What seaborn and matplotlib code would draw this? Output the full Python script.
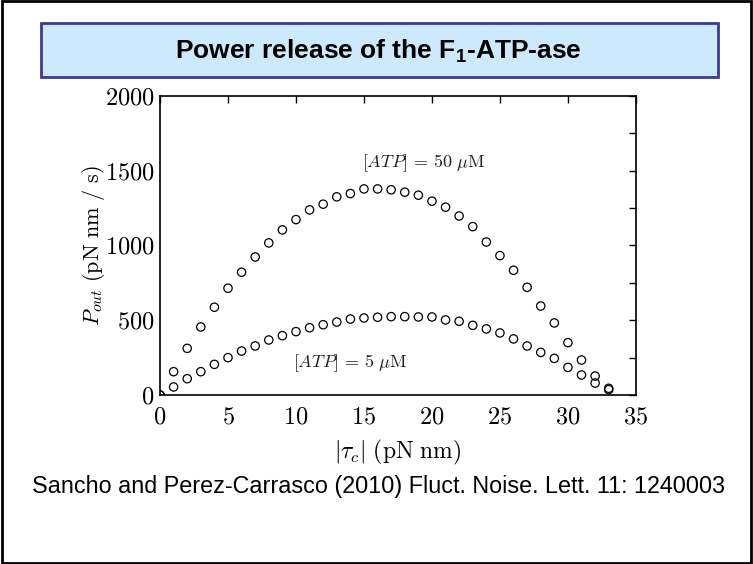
import numpy as np
import pandas as pd
import matplotlib
matplotlib.use("Agg")
import matplotlib.pyplot as plt
import matplotlib.patches as patches
from matplotlib.ticker import MultipleLocator, FuncFormatter
import seaborn as sns

# data (torque in pN nm, power in pN nm / s)
tau = list(range(0, 34))
p_50uM = [0, 156, 312, 455, 587, 714, 821, 923, 1017, 1104,
          1173, 1238, 1276, 1325, 1347, 1378, 1378, 1372, 1356, 1336,
          1296, 1256, 1197, 1126, 1023, 932, 834, 720, 595, 482,
          350, 234, 127, 45]
p_5uM = [0, 54, 109, 156, 205, 250, 294, 328, 368, 397,
         424, 450, 470, 488, 508, 515, 520, 524, 524, 522,
         522, 502, 493, 466, 442, 415, 375, 328, 285, 245,
         185, 134, 80, 36]

df = pd.DataFrame({"tau": tau * 2,
                   "P": p_50uM + p_5uM,
                   "ATP": ["50 uM"] * len(tau) + ["5 uM"] * len(tau)})

sns.set_style("white")
plt.rcParams["mathtext.fontset"] = "cm"
plt.rcParams["font.family"] = ["Liberation Sans", "DejaVu Sans"]
plt.rcParams["text.color"] = "black"
plt.rcParams["axes.labelcolor"] = "black"
plt.rcParams["xtick.color"] = "black"
plt.rcParams["ytick.color"] = "black"

fig = plt.figure(figsize=(7.53, 5.64), dpi=100)
ax = fig.add_axes([0.2125, 0.2996, 0.632, 0.5304])

sns.scatterplot(data=df, x="tau", y="P", hue="ATP", palette=["black", "black"],
                marker="o", facecolors="none", s=36, linewidth=0.9,
                legend=False, ax=ax)
# hollow circles
for coll in ax.collections:
    coll.set_facecolor("none")
    coll.set_edgecolor("black")

ax.set_xlim(0, 35)
ax.set_ylim(0, 2000)
ax.xaxis.set_major_locator(MultipleLocator(5))
ax.yaxis.set_major_locator(MultipleLocator(500))
ax.yaxis.set_minor_locator(MultipleLocator(250))
fmt = FuncFormatter(lambda v, pos: "$%d$" % v)
ax.xaxis.set_major_formatter(fmt)
ax.yaxis.set_major_formatter(fmt)
ax.tick_params(which="both", direction="in", top=True, right=True,
               labelsize=17.5, color="black", labelcolor="black", width=1)
ax.tick_params(which="major", length=5)
ax.tick_params(axis="x", which="major", pad=8)
ax.tick_params(axis="y", which="major", pad=4)
ax.tick_params(which="minor", length=5)
for sp in ax.spines.values():
    sp.set_color("black")
    sp.set_linewidth(1.2)

ax.set_xlabel(r"$|\tau_c|\ \mathrm{(pN\ nm)}$", fontsize=17, labelpad=7)
ax.set_ylabel(r"$P_{out}\ \mathrm{(pN\ nm\ /\ s)}$", fontsize=16, labelpad=-1.5)

ax.text(19.4, 1550, r"$[ATP]\,=\,50\ \mu\mathrm{M}$", fontsize=13,
        ha="center", va="center", color="#222222")
ax.text(14.0, 215, r"$[ATP]\,=\,5\ \mu\mathrm{M}$", fontsize=13,
        ha="center", va="center", color="#222222")

# title box
fig.patches.append(patches.Rectangle((0.0545, 0.8635), 0.899, 0.0957,
                                     transform=fig.transFigure,
                                     facecolor="#cdeafd", edgecolor="#3a3a9a",
                                     linewidth=2))
plt.rcParams["mathtext.bf"] = "Liberation Sans:bold"
fig.text(0.502, 0.909, r"Power release of the F$_\mathbf{1}$-ATP-ase",
         fontsize=19, fontweight="bold", ha="center", va="center",
         math_fontfamily="custom")

fig.text(0.503, 0.137,
         "Sancho and Perez-Carrasco (2010) Fluct. Noise. Lett. 11: 1240003",
         fontsize=16.8, ha="center", va="center")

# outer frame
fig.patches.append(patches.Rectangle((0.002, 0.002), 0.996, 0.996,
                                     transform=fig.transFigure,
                                     facecolor="none", edgecolor="black",
                                     linewidth=2))

plt.savefig("out.png", dpi=100)
plt.close()
